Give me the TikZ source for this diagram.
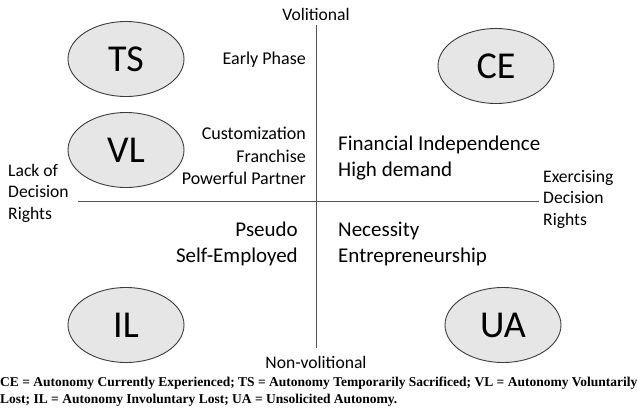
\documentclass[tikz,border=0pt]{standalone}
\usepackage{fontspec}
\setmainfont{Carlito}
\newfontfamily\capfont{Liberation Serif}
\usetikzlibrary{shapes.geometric}
\definecolor{axisgray}{HTML}{555555}
\definecolor{ovalfill}{HTML}{E6E6E6}
\definecolor{ovalline}{HTML}{3C3C3C}
\tikzset{
  oval/.style={ellipse, draw=ovalline, fill=ovalfill, line width=0.9pt,
    minimum width=116pt, minimum height=75pt, inner sep=0pt,
    font=\fontsize{38}{40}\selectfont},
  axislabel/.style={inner sep=0pt, font=\fontsize{17.6}{21.5}\selectfont},
  cornerlabel/.style={inner sep=0pt, font=\fontsize{18}{22.5}\selectfont},
  quadtext/.style={inner sep=0pt, font=\fontsize{21}{25.5}\selectfont},
  axis/.style={draw=axisgray, line width=1pt}
}
\begin{document}
\begin{tikzpicture}[x=1pt,y=-1pt]
\useasboundingbox (0,0) rectangle (638,418);
\fill[white] (0,0) rectangle (638,418);

% axes
\coordinate (vtop) at (316,25);
\coordinate (vbot) at (316,348);
\coordinate (hleft) at (78,201);
\coordinate (hright) at (539,201);
\draw[axis] (vtop) -- (vbot);
\draw[axis] (hleft) -- (hright);

% axis labels
\node[axislabel] (vol) at (316,14) {Volitional};
\node[axislabel] (nonvol) at (316,362) {Non-volitional};
\node[axislabel, align=left, anchor=west] (lack) at (8,193) {Lack of\\Decision\\Rights};
\node[axislabel, align=left, anchor=west] (exer) at (543,199) {Exercising\\Decision\\Rights};

% autonomy ovals
\node[oval] (TS) at (126,59) {TS};
\node[oval] (VL) at (126,150) {VL};
\node[oval] (CE) at (496,66) {CE};
\node[oval] (IL) at (126,325) {IL};
\node[oval] (UA) at (503,325) {UA};

% quadrant descriptions
\node[cornerlabel, anchor=east] (early) at (306,60) {Early Phase};
\node[cornerlabel, align=right, anchor=east] (cust) at (306,156) {Customization\\Franchise\\Powerful Partner};
\node[quadtext, align=left, anchor=west] (fin) at (338,158) {Financial Independence\\High demand};
\node[quadtext, align=right, anchor=east] (pseudo) at (298,244) {Pseudo\\Self-Employed};
\node[quadtext, align=left, anchor=west] (nec) at (338,244) {Necessity\\Entrepreneurship};

% caption
\node[inner sep=0pt, anchor=north west, align=left,
  font=\capfont\bfseries\fontsize{13.5}{16.5}\selectfont] (cap) at (0,377)
  {CE = Autonomy Currently Experienced; TS = Autonomy Temporarily Sacrificed; VL = Autonomy Voluntarily\\
   Lost; IL = Autonomy Involuntary Lost; UA = Unsolicited Autonomy.};
\end{tikzpicture}
\end{document}
